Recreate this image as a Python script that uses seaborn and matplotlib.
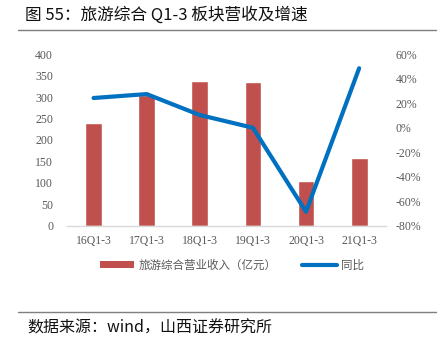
import matplotlib
matplotlib.use("Agg")
import matplotlib.pyplot as plt
import seaborn as sns
import pandas as pd
from matplotlib.lines import Line2D
from matplotlib.patches import Patch

categories = ["16Q1-3", "17Q1-3", "18Q1-3", "19Q1-3", "20Q1-3", "21Q1-3"]
revenue = [240, 306, 337, 336, 105, 157]
growth = [24.3, 27.5, 10.4, 0.0, -68.6, 48.6]
left_ticks = [0, 50, 100, 150, 200, 250, 300, 350, 400]
right_ticks = [-80, -60, -40, -20, 0, 20, 40, 60]

sns.set_theme(style="white")
plt.rcParams['font.family'] = ['Noto Sans CJK SC', 'DejaVu Sans']

df = pd.DataFrame({"cat": categories, "rev": revenue, "g": growth})

fig = plt.figure(figsize=(4.46, 3.47), dpi=100)
ax = fig.add_axes([67/446, 1-225.7/347, (385.7-67)/446, (225.7-54.3)/347])
bar_color = "#C0504D"
line_color = "#0070C0"
tick_color = "#595959"
serif = ['Liberation Serif', 'DejaVu Serif']

sns.barplot(data=df, x="cat", y="rev", order=categories, color=bar_color,
            width=0.315, saturation=1, ax=ax, zorder=2)
ax.set_xlim(-0.5, 5.5)
ax.set_ylim(0, 400)
ax.set_yticks(left_ticks)
ax.set_yticklabels([str(t) for t in left_ticks], family=serif, fontsize=8.5, color=tick_color)
ax.set_xticks(range(len(categories)))
ax.set_xticklabels(categories, family=serif, fontsize=8.5, color=tick_color)
ax.tick_params(axis='x', length=0, pad=7)
ax.tick_params(axis='y', length=0, pad=10)
ax.set_xlabel("")
ax.set_ylabel("")
for s in ["top", "right", "left"]:
    ax.spines[s].set_visible(False)
ax.spines["bottom"].set_color("#D9D9D9")
ax.spines["bottom"].set_linewidth(1)

ax2 = ax.twinx()
sns.lineplot(x=list(range(len(categories))), y=growth, color=line_color, linewidth=3,
             ax=ax2, zorder=3)
ax2.set_xlim(-0.5, 5.5)
ax2.set_ylim(-80, 60)
ax2.set_yticks(right_ticks)
ax2.set_yticklabels([f"{t}%" for t in right_ticks], family=serif, fontsize=8.5, color=tick_color)
ax2.tick_params(axis='y', length=0, pad=7)
for s in ["top", "right", "left", "bottom"]:
    ax2.spines[s].set_visible(False)
ax2.set_ylabel("")

handles = [Patch(facecolor=bar_color, edgecolor='none'),
           Line2D([0], [0], color=line_color, linewidth=3)]
labels = ["旅游综合营业收入（亿元）", "同比"]
leg = fig.legend(handles, labels, loc="center", bbox_to_anchor=(0.52, 1-265/347), ncol=2,
                 frameon=False, fontsize=8.3, handlelength=3.0, handleheight=0.5,
                 columnspacing=2.2, handletextpad=0.4)
for t in leg.get_texts():
    t.set_color(tick_color)

fig.text(25/446, 1-15/347, "图 55：旅游综合 Q1-3 板块营收及增速", fontsize=12,
         color="#111111", va="center", ha="left")
fig.add_artist(Line2D([18/446, 436/446], [1-30/347, 1-30/347], color="#7F7F7F", linewidth=1))
fig.add_artist(Line2D([18/446, 436/446], [1-312/347, 1-312/347], color="#7F7F7F", linewidth=1))
fig.text(27/446, 1-328/347, "数据来源：wind，山西证券研究所", fontsize=11.5,
         color="#111111", va="center", ha="left")

fig.savefig("out.png", dpi=100)
